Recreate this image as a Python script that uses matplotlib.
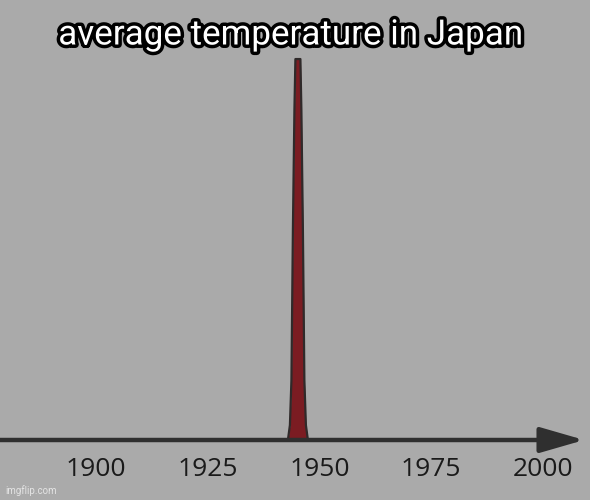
import matplotlib
matplotlib.use("Agg")
import matplotlib.pyplot as plt
import matplotlib.patheffects as pe

# Data
tick_years = [1900, 1925, 1950, 1975, 2000]
tick_labels = ["1900", "1925", "1950", "1975", "2000"]
years = [1880, 1942.96, 1943.41, 1943.75, 1944.08, 1944.42, 1944.64,
         1945.76, 1945.98, 1946.32, 1946.65, 1946.99, 1947.44, 2000]
temps = [0, 0, 3.9, 15.7, 55.1, 86.6, 100,
         100, 86.6, 55.1, 15.7, 3.9, 0, 0]
title = "average temperature in Japan"

BG = "#aaaaaa"
fig = plt.figure(figsize=(5.9, 5.0), dpi=100, facecolor=BG)
ax = fig.add_axes([0, 60 / 500, 1, 440 / 500])
ax.set_facecolor(BG)
ax.set_xlim(1878.5, 2010.6)
ax.set_ylim(0, 115.5)

ax.fill_between(years, temps, 0, color="#7b1c22", lw=0, zorder=2)
ax.plot(years, temps, color="#2f2a2a", lw=1.6, zorder=3, solid_joinstyle="round")

ax.annotate("", xy=(2009.3, 0), xytext=(1878.5, 0),
            arrowprops=dict(arrowstyle="-|>,head_length=2.7,head_width=0.78",
                            mutation_scale=10, lw=3.2, color="#2f2f2f",
                            shrinkA=0, shrinkB=0),
            annotation_clip=False, zorder=4)

for s in ax.spines.values():
    s.set_visible(False)
ax.set_yticks([])
ax.set_xticks(tick_years)
ax.set_xticklabels(tick_labels, family="Open Sans", fontsize=19, color="#1a1a1a")
ax.tick_params(axis="x", length=0, pad=12)

fig.text(0.493, 1 - 35 / 500, title, ha="center", va="center",
         family="Roboto", fontsize=25.2, color="white",
         path_effects=[pe.withStroke(linewidth=5, foreground="black")])

fig.text(5 / 590, 1 - 491 / 500, "imgflip.com", ha="left", va="center",
         family="Roboto", fontsize=7, color="#e4e4e4")

fig.savefig("out.png", dpi=100, facecolor=BG)
